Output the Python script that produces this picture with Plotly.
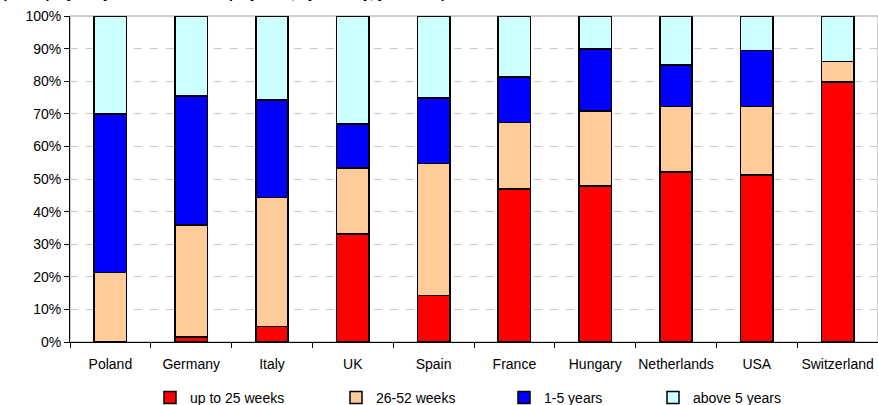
import plotly.graph_objects as go

countries = ["Poland", "Germany", "Italy", "UK", "Spain", "France", "Hungary",
             "Netherlands", "USA", "Switzerland"]
up_to_25_weeks = [0.0, 1.6, 4.7, 33.1, 14.2, 46.9, 47.9, 52.1, 51.2, 79.8]
weeks_26_52 = [21.3, 34.3, 39.6, 20.3, 40.5, 20.5, 23.0, 20.1, 21.0, 6.2]
years_1_5 = [48.6, 39.6, 29.9, 13.5, 20.2, 13.9, 19.0, 12.7, 17.2, 0.0]
above_5_years = [30.1, 24.5, 25.8, 33.1, 25.1, 18.7, 10.1, 15.1, 10.6, 14.0]

series = [
    ("up to 25 weeks", up_to_25_weeks, "#FF0000"),
    ("26-52 weeks", weeks_26_52, "#FFCC99"),
    ("1-5 years", years_1_5, "#0000FF"),
    ("above 5 years", above_5_years, "#CCFFFF"),
]
legend_ids = ["legend", "legend2", "legend3", "legend4"]
legend_x = [150, 336, 504, 653]  # pixel start of each legend entry

FONT = "Arial, Liberation Sans, sans-serif"
W, H = 878, 405
ML, MR, MT, MB = 70, 0, 16, 63

fig = go.Figure()
for (name, vals, col), lid in zip(series, legend_ids):
    fig.add_trace(go.Bar(
        x=countries, y=vals, name=name, legend=lid,
        marker=dict(color=col, line=dict(color="#000000", width=1.5)),
        width=0.4,
    ))

layout_legends = {}
for lid, px in zip(legend_ids, legend_x):
    layout_legends[lid] = dict(
        x=px / W, xanchor="left", xref="container",
        y=(H - 398) / H, yanchor="middle", yref="container",
        orientation="h", font=dict(family=FONT, size=14, color="#000000"),
        bgcolor="rgba(0,0,0,0)", borderwidth=0,
    )

fig.update_layout(
    width=W, height=H,
    margin=dict(l=ML, r=MR, t=MT, b=MB, pad=0, autoexpand=False),
    barmode="stack",
    plot_bgcolor="#FFFFFF", paper_bgcolor="#FFFFFF",
    font=dict(family=FONT, size=14, color="#000000"),
    showlegend=True,
    **layout_legends,
)
fig.update_xaxes(
    showline=True, linecolor="#000000", linewidth=1,
    ticks="outside", ticklen=5, tickcolor="#000000", tickson="boundaries",
    showgrid=False, tickfont=dict(family=FONT, size=14, color="#000000"),
    tickangle=0, automargin=False, ticklabelstandoff=9,
)
fig.update_yaxes(
    range=[0, 100], tickvals=list(range(0, 101, 10)),
    ticktext=[f"{v}%" for v in range(0, 101, 10)],
    showline=True, linecolor="#000000", linewidth=1,
    ticks="outside", ticklen=5, tickcolor="#000000",
    showgrid=True, gridcolor="#C8C8C8", griddash="8px,8px", gridwidth=1,
    zeroline=False, tickfont=dict(family=FONT, size=14, color="#000000"),
    automargin=False,
)
fig.add_shape(type="rect", xref="paper", yref="paper", x0=0, x1=1, y0=0, y1=1,
              line=dict(color="#A0A0A0", width=1), layer="below")
fig.add_annotation(
    text="<b>(Unemployed by duration of unemployment, by country, year 2005)</b>",
    xref="paper", yref="paper", x=0, y=1, xanchor="left", yanchor="bottom",
    xshift=-ML, yshift=13, showarrow=False,
    font=dict(family=FONT, size=14, color="#000000"),
)

fig.write_html("out.html")
